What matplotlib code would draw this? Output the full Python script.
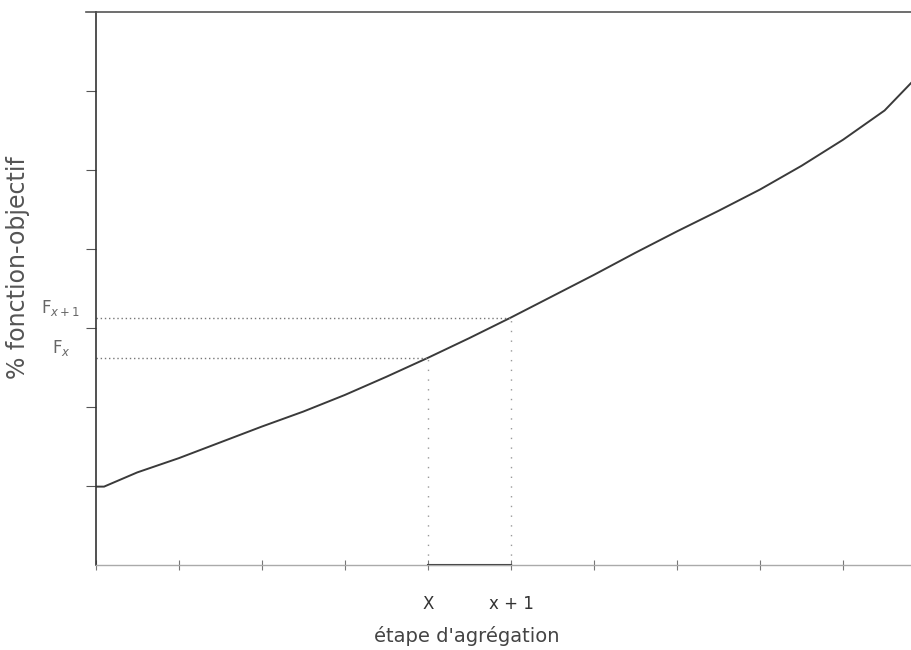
import matplotlib
matplotlib.use("Agg")
import matplotlib.pyplot as plt

# courbe (étape, % fonction-objectif en unités de graduation)
etapes = [0, 0.1, 0.5, 1, 1.5, 2, 2.5, 3, 3.5, 4, 4.5, 5, 5.5, 6, 6.5, 7,
          7.5, 8, 8.5, 9, 9.5, 9.83]
fonction = [0.99, 0.99, 1.17, 1.35, 1.55, 1.75, 1.94, 2.15, 2.38, 2.62, 2.87,
            3.13, 3.40, 3.67, 3.95, 4.22, 4.48, 4.75, 5.05, 5.38, 5.75, 6.11]

x_sel = [4, 5]
x_labels = ["X", "x + 1"]
f_sel = [2.62, 3.13]
f_labels = [r"F$_x$", r"F$_{x+1}$"]

grey = "#555555"

fig = plt.figure(figsize=(9.12, 6.5), dpi=100)
ax = fig.add_axes([0.105, 0.131, 0.895, 0.851])

ax.plot(etapes, fonction, color="#3a3a3a", lw=1.4)

# lignes pointillées vers les axes
for xs, fs in zip(x_sel, f_sel):
    ax.plot([0, xs], [fs, fs], color="#777777", lw=1, ls=(0, (1, 2)))
    ax.plot([xs, xs], [0, fs], color="#999999", lw=1, ls=(0, (1, 6)))

ax.set_xlim(0, 9.83)
ax.set_ylim(0, 7)

ax.spines["right"].set_visible(False)
ax.spines["top"].set_color(grey)
ax.spines["top"].set_linewidth(1.2)
ax.spines["left"].set_color("#333333")
ax.spines["left"].set_linewidth(1.2)
ax.spines["bottom"].set_color("#aaaaaa")
ax.spines["bottom"].set_linewidth(1)

# prolongement du trait du haut à gauche de l'axe
ax.plot([-0.12, 0], [7, 7], color=grey, lw=1.2, clip_on=False)

# segment foncé entre X et X+1 sur l'axe des abscisses
ax.plot(x_sel, [0, 0], color="#333333", lw=1.5, clip_on=False)

ax.set_xticks(range(10))
ax.set_xticklabels(["", "", "", "", x_labels[0], x_labels[1], "", "", "", ""],
                   fontsize=12, color="#333333")
ax.tick_params(axis="x", direction="inout", length=7, color="#777777", pad=18)

ax.set_yticks([1, 2, 3, 4, 5, 6])
ax.set_yticklabels([])
ax.tick_params(axis="y", direction="out", length=7, color=grey)

for fs, lab in zip(f_sel, f_labels):
    ax.text(-0.42, fs + 0.12, lab, fontsize=12, color="#666666",
            ha="center", va="center")

ax.set_xlabel("étape d'agrégation", fontsize=14, color="#444444")
ax.xaxis.set_label_coords(0.455, -0.11)
ax.set_ylabel("% fonction-objectif", fontsize=17, color="#555555")
ax.yaxis.set_label_coords(-0.08, 0.537)

fig.savefig("out.png", dpi=100)
